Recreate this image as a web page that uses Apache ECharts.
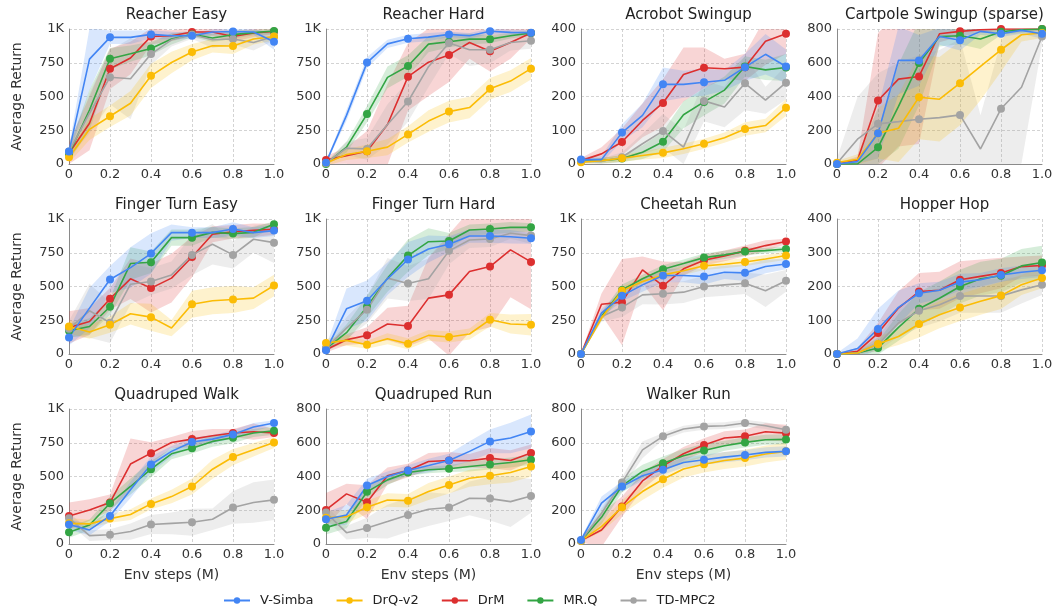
<!DOCTYPE html>
<html><head><meta charset="utf-8">
<script src="https://cdn.jsdelivr.net/npm/echarts@6/dist/echarts.min.js"></script>
<style>html,body{margin:0;padding:0;background:#fff}#c{width:1056px;height:609px}</style>
</head><body><div id="c"></div>
<script>
const xs = [0, 0.1, 0.2, 0.3, 0.4, 0.5, 0.6, 0.7, 0.8, 0.9, 1.0];
const seriesNames = ['V-Simba', 'DrQ-v2', 'DrM', 'MR.Q', 'TD-MPC2'];
const colors = ['#4285F4', '#FBBC05', '#DC2F2F', '#33A544', '#A3A3A3'];
const titles = ['Reacher Easy', 'Reacher Hard', 'Acrobot Swingup', 'Cartpole Swingup (sparse)',
  'Finger Turn Easy', 'Finger Turn Hard', 'Cheetah Run', 'Hopper Hop',
  'Quadruped Walk', 'Quadruped Run', 'Walker Run'];
const yMaxes = [1000, 1000, 400, 800, 1000, 1000, 1000, 400, 1000, 800, 800];
const xAxisName = 'Env steps (M)';
const yAxisName = 'Average Return';

// means: rows = V-Simba, DrQ-v2, DrM, MR.Q, TD-MPC2
const reacherEasyMean = [
  [92, 777, 938, 938, 960, 950, 950, 978, 982, 978, 906],
  [50, 257, 354, 450, 653, 752, 829, 876, 874, 926, 945],
  [80, 302, 705, 785, 945, 950, 978, 978, 945, 970, 982],
  [74, 400, 780, 817, 856, 926, 960, 933, 958, 973, 985],
  [92, 376, 643, 631, 814, 920, 958, 920, 926, 900, 945]];
const reacherEasySpread = [
  [30, 230, 50, 50, 30, 30, 20, 20, 20, 20, 60],
  [40, 80, 80, 90, 90, 80, 60, 50, 60, 40, 30],
  [80, 200, 150, 120, 60, 40, 30, 30, 40, 30, 20],
  [50, 150, 80, 60, 50, 40, 20, 30, 30, 20, 20],
  [40, 150, 200, 300, 80, 50, 30, 60, 40, 60, 30]];
const reacherHardMean = [
  [10, 360, 751, 890, 928, 940, 960, 950, 983, 975, 972],
  [7, 70, 95, 125, 219, 318, 388, 418, 557, 614, 706],
  [30, 62, 95, 293, 647, 754, 808, 900, 836, 900, 970],
  [0, 125, 370, 642, 726, 888, 905, 925, 925, 950, 970],
  [7, 117, 112, 293, 463, 721, 896, 846, 846, 900, 913]];
const reacherHardSpread = [
  [10, 40, 40, 30, 30, 30, 20, 20, 20, 20, 20],
  [20, 40, 50, 60, 60, 80, 80, 80, 80, 80, 80],
  [30, 60, 150, 300, 250, 250, 200, 120, 150, 120, 40],
  [10, 40, 60, 80, 80, 60, 40, 40, 30, 20, 20],
  [10, 50, 80, 150, 150, 150, 80, 120, 100, 60, 60]];
const acrobotMean = [
  [13, 13, 93, 144, 236, 236, 242, 248, 287, 325, 289],
  [5, 10, 17, 25, 33, 45, 60, 78, 104, 114, 167],
  [10, 30, 65, 129, 181, 265, 285, 282, 287, 364, 386],
  [10, 10, 16, 35, 66, 146, 184, 219, 289, 279, 286],
  [8, 8, 20, 60, 98, 50, 187, 169, 239, 189, 241]];
const acrobotSpread = [
  [8, 10, 25, 35, 50, 40, 40, 30, 40, 60, 50],
  [5, 8, 10, 12, 15, 15, 15, 15, 20, 20, 25],
  [8, 20, 40, 50, 70, 80, 60, 30, 40, 70, 60],
  [5, 8, 10, 20, 30, 40, 40, 40, 30, 30, 40],
  [5, 8, 15, 30, 50, 50, 60, 60, 80, 40, 50]];
const cartpoleMean = [
  [0, 14, 182, 614, 614, 756, 733, 786, 772, 792, 772],
  [8, 28, 182, 212, 396, 384, 479, 578, 677, 766, 776],
  [0, 24, 376, 503, 519, 772, 786, 796, 800, 800, 800],
  [0, 0, 99, 341, 598, 756, 760, 741, 784, 796, 800],
  [4, 147, 238, 251, 265, 275, 291, 89, 327, 455, 756]];
const cartpoleSpread = [
  [5, 10, 150, 200, 150, 50, 60, 20, 20, 20, 30],
  [10, 30, 150, 200, 250, 250, 250, 200, 130, 40, 30],
  [5, 20, 400, 400, 400, 50, 30, 20, 10, 10, 10],
  [5, 10, 100, 250, 250, 60, 50, 60, 20, 20, 10],
  [30, 250, 300, 350, 380, 400, 450, 200, 400, 450, 50]];
const fingerEasyMean = [
  [123, 340, 552, 640, 744, 899, 899, 899, 926, 899, 914],
  [204, 163, 217, 298, 273, 192, 369, 394, 404, 414, 507],
  [197, 241, 409, 557, 488, 562, 719, 887, 906, 916, 924],
  [172, 204, 350, 670, 680, 862, 862, 901, 892, 901, 961],
  [187, 320, 232, 517, 537, 586, 734, 813, 734, 850, 825]];
const fingerEasySpread = [
  [60, 150, 100, 150, 150, 60, 40, 40, 50, 40, 40],
  [50, 50, 60, 80, 100, 60, 100, 100, 100, 80, 80],
  [120, 100, 80, 150, 180, 180, 150, 60, 50, 50, 40],
  [50, 60, 60, 120, 80, 60, 60, 40, 40, 40, 20],
  [60, 200, 150, 150, 100, 100, 150, 150, 100, 100, 150]];
const fingerHardMean = [
  [27, 335, 394, 557, 700, 778, 813, 874, 874, 869, 857],
  [81, 101, 69, 113, 76, 138, 126, 148, 254, 222, 217],
  [32, 106, 138, 222, 207, 414, 438, 611, 648, 771, 682],
  [39, 158, 350, 562, 729, 832, 837, 919, 926, 938, 938],
  [44, 192, 328, 562, 522, 557, 764, 845, 852, 894, 877]];
const fingerHardSpread = [
  [30, 150, 150, 120, 130, 100, 60, 50, 50, 50, 40],
  [30, 40, 30, 40, 40, 40, 40, 40, 50, 70, 80],
  [20, 40, 60, 120, 150, 300, 450, 450, 450, 350, 350],
  [20, 60, 80, 100, 120, 100, 60, 40, 40, 40, 30],
  [20, 80, 100, 150, 130, 150, 100, 60, 60, 40, 60]];
const cheetahMean = [
  [0, 303, 431, 512, 581, 581, 574, 606, 601, 648, 667],
  [0, 266, 468, 537, 586, 616, 653, 665, 682, 704, 729],
  [0, 369, 384, 623, 505, 631, 695, 727, 764, 803, 833],
  [0, 278, 475, 557, 628, 670, 714, 734, 759, 766, 778],
  [0, 278, 345, 438, 446, 458, 500, 512, 524, 468, 542]];
const cheetahSpread = [
  [5, 30, 40, 50, 50, 50, 60, 50, 60, 50, 40],
  [5, 20, 30, 30, 30, 30, 30, 30, 30, 30, 30],
  [5, 80, 320, 100, 180, 50, 40, 40, 40, 40, 20],
  [5, 30, 40, 30, 30, 30, 30, 30, 30, 20, 20],
  [5, 40, 70, 70, 80, 80, 80, 80, 80, 120, 80]];
const hopperMean = [
  [0, 16, 74, 138, 180, 189, 213, 220, 234, 242, 248],
  [0, 3, 30, 52, 89, 116, 138, 156, 173, 205, 225],
  [0, 8, 62, 136, 185, 189, 220, 230, 240, 259, 262],
  [0, 3, 18, 79, 134, 165, 200, 223, 232, 261, 271],
  [0, 3, 28, 92, 128, 146, 172, 172, 172, 190, 205]];
const hopperSpread = [
  [3, 30, 60, 50, 30, 25, 25, 20, 20, 20, 20],
  [3, 5, 20, 25, 40, 40, 40, 40, 40, 30, 30],
  [3, 10, 30, 50, 55, 55, 55, 50, 45, 30, 30],
  [3, 5, 20, 40, 50, 50, 50, 50, 50, 50, 50],
  [3, 5, 20, 40, 50, 50, 50, 50, 50, 40, 30]];
const quadWalkMean = [
  [144, 104, 208, 401, 589, 686, 755, 777, 812, 866, 896],
  [153, 149, 188, 218, 297, 351, 426, 554, 644, 698, 752],
  [208, 252, 307, 592, 673, 752, 777, 802, 822, 832, 822],
  [87, 141, 302, 426, 554, 668, 710, 760, 787, 822, 839],
  [191, 62, 69, 92, 144, 153, 161, 183, 270, 307, 327]];
const quadWalkSpread = [
  [40, 40, 40, 60, 60, 40, 30, 30, 30, 30, 20],
  [40, 30, 30, 40, 40, 50, 60, 70, 60, 50, 40],
  [100, 80, 60, 190, 80, 40, 60, 50, 30, 60, 30],
  [40, 40, 50, 60, 60, 40, 40, 40, 40, 30, 30],
  [40, 40, 40, 60, 70, 80, 100, 80, 120, 150, 150]];
const quadRunMean = [
  [147, 172, 347, 400, 436, 465, 495, 549, 608, 628, 667],
  [156, 162, 218, 261, 257, 311, 350, 390, 404, 424, 459],
  [202, 297, 248, 404, 436, 489, 495, 493, 509, 495, 539],
  [97, 133, 309, 380, 424, 440, 446, 459, 471, 483, 499],
  [186, 67, 95, 133, 172, 206, 216, 271, 269, 251, 285]];
const quadRunSpread = [
  [40, 60, 40, 30, 30, 40, 40, 60, 70, 90, 100],
  [40, 40, 40, 40, 40, 50, 50, 50, 50, 60, 60],
  [100, 60, 100, 50, 40, 50, 50, 40, 60, 60, 50],
  [40, 40, 40, 30, 20, 20, 20, 30, 30, 30, 30],
  [40, 40, 60, 100, 100, 100, 80, 100, 130, 150, 100]];
const walkerRunMean = [
  [24, 242, 341, 404, 440, 483, 499, 515, 527, 543, 549],
  [20, 103, 218, 311, 384, 444, 473, 495, 509, 533, 549],
  [20, 83, 222, 374, 463, 535, 586, 628, 638, 665, 657],
  [20, 158, 345, 430, 479, 523, 554, 582, 602, 618, 620],
  [20, 182, 364, 558, 638, 681, 697, 701, 717, 701, 677]];
const walkerRunSpread = [
  [10, 40, 30, 30, 30, 30, 30, 30, 30, 30, 30],
  [10, 30, 40, 50, 50, 50, 50, 50, 50, 50, 50],
  [10, 100, 60, 50, 40, 40, 40, 40, 40, 50, 50],
  [10, 40, 40, 40, 40, 40, 40, 30, 30, 30, 30],
  [10, 30, 30, 50, 20, 20, 20, 20, 20, 20, 20]];

const panelMeans = [reacherEasyMean, reacherHardMean, acrobotMean, cartpoleMean,
  fingerEasyMean, fingerHardMean, cheetahMean, hopperMean, quadWalkMean, quadRunMean, walkerRunMean];
const panelSpreads = [reacherEasySpread, reacherHardSpread, acrobotSpread, cartpoleSpread,
  fingerEasySpread, fingerHardSpread, cheetahSpread, hopperSpread, quadWalkSpread, quadRunSpread, walkerRunSpread];

// layout
const colLefts = [69, 326, 581, 837];
const rowTops = [29, 219, 409];
const gw = 205, gh = 135;

function hexA(hex, a) {
  const n = parseInt(hex.slice(1), 16);
  return `rgba(${(n >> 16) & 255},${(n >> 8) & 255},${n & 255},${a})`;
}

// clip polygon to rect (Sutherland-Hodgman)
function clipPoly(pts, r) {
  const edges = [
    p => p[0] >= r.x, p => p[0] <= r.x + r.width,
    p => p[1] >= r.y, p => p[1] <= r.y + r.height];
  const inter = [
    (a, b) => { const t = (r.x - a[0]) / (b[0] - a[0]); return [r.x, a[1] + t * (b[1] - a[1])]; },
    (a, b) => { const X = r.x + r.width; const t = (X - a[0]) / (b[0] - a[0]); return [X, a[1] + t * (b[1] - a[1])]; },
    (a, b) => { const t = (r.y - a[1]) / (b[1] - a[1]); return [a[0] + t * (b[0] - a[0]), r.y]; },
    (a, b) => { const Y = r.y + r.height; const t = (Y - a[1]) / (b[1] - a[1]); return [a[0] + t * (b[0] - a[0]), Y]; }];
  let out = pts;
  for (let e = 0; e < 4; e++) {
    const inp = out; out = [];
    if (!inp.length) break;
    for (let i = 0; i < inp.length; i++) {
      const cur = inp[i], prev = inp[(i + inp.length - 1) % inp.length];
      const ci = edges[e](cur), pi = edges[e](prev);
      if (ci) { if (!pi) out.push(inter[e](prev, cur)); out.push(cur); }
      else if (pi) out.push(inter[e](prev, cur));
    }
  }
  return out;
}

const grids = [], xAxes = [], yAxes = [], series = [], titleArr = [];
const drawOrder = [2, 3, 4, 1, 0];
titles.forEach((t, k) => {
  const r = Math.floor(k / 4), c = k % 4;
  const left = colLefts[c], top = rowTops[r];
  grids.push({ left, top, width: gw, height: gh });
  titleArr.push({ text: t, left: left + gw / 2, top: top - 26, textAlign: 'center',
    textStyle: { fontSize: 15, fontWeight: 'normal', color: '#222', fontFamily: 'DejaVu Sans' } });
  const ym = yMaxes[k];
  xAxes.push({ gridIndex: k, type: 'value', min: 0, max: 1, interval: 0.2,
    name: (r === 2) ? xAxisName : '', nameLocation: 'middle', nameGap: 24,
    nameTextStyle: { fontSize: 14, color: '#333', fontFamily: 'DejaVu Sans' },
    axisLine: { show: true, lineStyle: { color: '#8a8a8a', width: 1 } },
    axisTick: { show: false },
    axisLabel: { margin: 4, fontSize: 13, color: '#333', fontFamily: 'DejaVu Sans',
      formatter: v => v === 0 ? '0' : v.toFixed(1) },
    splitLine: { show: true, lineStyle: { color: '#c8c8c8', type: [3, 2], width: 0.8 } } });
  yAxes.push({ gridIndex: k, type: 'value', min: 0, max: ym, interval: ym / 4,
    name: c === 0 ? yAxisName : '', nameLocation: 'middle', nameGap: 45, nameRotate: 90,
    nameTextStyle: { fontSize: 14, color: '#333', fontFamily: 'DejaVu Sans' },
    axisLine: { show: true, lineStyle: { color: '#8a8a8a', width: 1 } },
    axisTick: { show: false },
    axisLabel: { margin: 5, fontSize: 13, color: '#333', fontFamily: 'DejaVu Sans',
      formatter: v => v === 1000 ? '1K' : String(v) },
    splitLine: { show: true, lineStyle: { color: '#c8c8c8', type: [3, 2], width: 0.8 } } });

  const means = panelMeans[k], spreads = panelSpreads[k];
  // bands (mean ± spread), drawn through the axis scales
  drawOrder.forEach(j => {
    const bandData = xs.map((x, i) => [x, means[j][i] - spreads[j][i], means[j][i] + spreads[j][i]]);
    series.push({ type: 'custom', coordinateSystem: 'cartesian2d', xAxisIndex: k, yAxisIndex: k,
      name: 'band_' + j, silent: true, z: 1, data: [[0, 0]],
      renderItem: (params, api) => {
        const pts = [];
        bandData.forEach(d => pts.push(api.coord([d[0], d[2]])));
        for (let i = bandData.length - 1; i >= 0; i--) pts.push(api.coord([bandData[i][0], bandData[i][1]]));
        const cs = params.coordSys;
        const clipped = clipPoly(pts, { x: cs.x, y: cs.y, width: cs.width, height: cs.height });
        return { type: 'polygon', shape: { points: clipped },
          style: { fill: hexA(colors[j], 0.2), stroke: null } };
      } });
  });
  // lines
  drawOrder.forEach(j => {
    series.push({ type: 'line', xAxisIndex: k, yAxisIndex: k, name: seriesNames[j],
      color: colors[j], symbol: 'circle', symbolSize: 8, showSymbol: true,
      lineStyle: { width: 1.6, color: colors[j] }, itemStyle: { color: colors[j] },
      data: xs.map((x, i) => i % 2 === 0 ? [x, means[j][i]] : { value: [x, means[j][i]], symbol: 'none' }),
      z: 3, clip: true });
  });
});

const chart = echarts.init(document.getElementById('c'), null, { renderer: 'canvas' });
chart.setOption({
  animation: false,
  backgroundColor: '#fff',
  title: titleArr,
  grid: grids,
  xAxis: xAxes,
  yAxis: yAxes,
  legend: { data: seriesNames, left: 218, top: 589, itemWidth: 26, itemHeight: 8, itemGap: 22,
    textStyle: { fontSize: 13, color: '#222', fontFamily: 'DejaVu Sans', padding: [0, 0, 0, 5] } },
  series
});
</script></body></html>
